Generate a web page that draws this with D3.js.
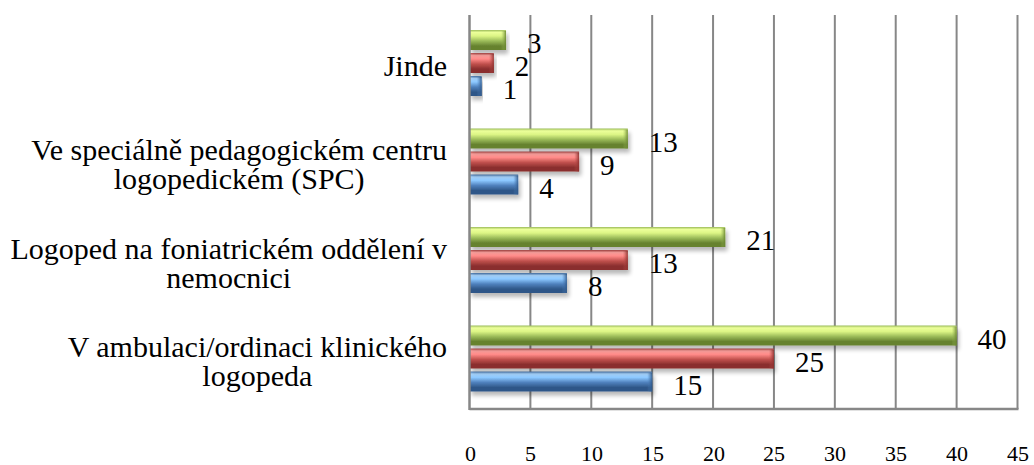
<!DOCTYPE html>
<html>
<head>
<meta charset="utf-8">
<script src="https://cdn.jsdelivr.net/npm/d3@7"></script>
<style>
  @font-face { font-family: "ChartSerif"; src: local("Liberation Serif"), local("LiberationSerif"), local("LiberationSerif-Regular"); }
  .tick-label { font-family: "ChartSerif", "Liberation Serif", serif; }
</style>
</head>
<body style="margin:0;background:#ffffff">
<svg id="fig" width="1034" height="465" style="display:block"></svg>
<script>
// Categories, listed top to bottom as drawn
const categories = [
  "Jinde",
  "Ve speciálně pedagogickém centru logopedickém (SPC)",
  "Logoped na foniatrickém oddělení v nemocnici",
  "V ambulaci/ordinaci klinického logopeda"
];
// Category labels broken into lines
const categoryLines = [
  ["Jinde"],
  ["Ve speciálně pedagogickém centru", "logopedickém (SPC)"],
  ["Logoped na foniatrickém oddělení v", "nemocnici"],
  ["V ambulaci/ordinaci klinického", "logopeda"]
];
// Series values, one per category (same order as categories)
const seriesNames = ["Řada 1", "Řada 2", "Řada 3"];
const series1 = [1, 4, 8, 15];
const series2 = [2, 9, 13, 25];
const series3 = [3, 13, 21, 40];
const xTicks = [0, 5, 10, 15, 20, 25, 30, 35, 40, 45];

const seriesColors = {
  "Řada 1": { light: "#8cc8ff", base: "#4f81bd", dark: "#2f5788", top: "#a9d6ff" },
  "Řada 2": { light: "#ff8a88", base: "#c0504d", dark: "#8a2f2d", top: "#ffa3a0" },
  "Řada 3": { light: "#dcf585", base: "#9bbb59", dark: "#66822f", top: "#ecff9a" }
};

const series = [
  { name: seriesNames[0], values: series1 },
  { name: seriesNames[1], values: series2 },
  { name: seriesNames[2], values: series3 }
];

const rows = [];
series.forEach(s => s.values.forEach((v, i) => rows.push({ series: s.name, category: categories[i], value: v })));

const svg = d3.select("#fig");
const plot = { left: 469.5, right: 1017.5, top: 15, bottom: 409 };

const x = d3.scaleLinear().domain([0, 45]).range([plot.left, plot.right]);
const y = d3.scaleBand().domain(categories).range([plot.top, plot.bottom]);
// Within a category: series 3 on top, series 1 at the bottom
const yInner = d3.scaleBand()
  .domain([seriesNames[2], seriesNames[1], seriesNames[0]])
  .range([15, 81])
  .paddingInner(3 / 23);

// Gradients and shadow
const defs = svg.append("defs");
seriesNames.forEach((n, k) => {
  const c = seriesColors[n];
  const g = defs.append("linearGradient").attr("id", "grad" + k)
    .attr("x1", 0).attr("y1", 0).attr("x2", 0).attr("y2", 1);
  [[0, c.base], [0.12, c.top], [0.3, c.light], [0.55, c.base], [0.8, c.dark], [1, c.dark]]
    .forEach(([o, col]) => g.append("stop").attr("offset", o).attr("stop-color", col));
  const e = defs.append("linearGradient").attr("id", "end" + k)
    .attr("x1", 0).attr("y1", 0).attr("x2", 1).attr("y2", 0);
  e.append("stop").attr("offset", 0).attr("stop-color", c.base).attr("stop-opacity", 0);
  e.append("stop").attr("offset", 1).attr("stop-color", c.dark).attr("stop-opacity", 0.9);
});
const sh = defs.append("filter").attr("id", "shadow")
  .attr("x", "-5%").attr("y", "-30%").attr("width", "115%").attr("height", "180%");
sh.append("feGaussianBlur").attr("in", "SourceAlpha").attr("stdDeviation", 2);
sh.append("feOffset").attr("dx", 2).attr("dy", 4).attr("result", "off");
sh.append("feComponentTransfer").append("feFuncA").attr("type", "linear").attr("slope", 0.28);
const merge = sh.append("feMerge");
merge.append("feMergeNode");
merge.append("feMergeNode").attr("in", "SourceGraphic");

// Vertical gridlines
const gridColor = "#878787";
svg.append("g").selectAll("line")
  .data(xTicks.filter(t => t > 0))
  .join("line")
  .attr("x1", d => x(d)).attr("x2", d => x(d))
  .attr("y1", plot.top).attr("y2", plot.bottom)
  .attr("stroke", gridColor).attr("stroke-width", 2);

// Bars
const seriesIndex = n => seriesNames.indexOf(n);
const bars = svg.append("g").selectAll("g.bar")
  .data(rows)
  .join("g")
  .attr("class", "bar")
  .attr("filter", "url(#shadow)");

bars.append("rect")
  .attr("x", x(0))
  .attr("y", d => y(d.category) + yInner(d.series))
  .attr("width", d => x(d.value) - x(0))
  .attr("height", yInner.bandwidth())
  .attr("fill", d => "url(#grad" + seriesIndex(d.series) + ")");

// bevelled right end
bars.append("rect")
  .attr("x", d => Math.max(x(0), x(d.value) - 5))
  .attr("y", d => y(d.category) + yInner(d.series) + 1)
  .attr("width", d => Math.min(5, x(d.value) - x(0)))
  .attr("height", yInner.bandwidth() - 1)
  .attr("fill", d => "url(#end" + seriesIndex(d.series) + ")");

// Axis lines (left and bottom)
svg.append("line")
  .attr("x1", plot.left).attr("x2", plot.left)
  .attr("y1", plot.top).attr("y2", plot.bottom + 1)
  .attr("stroke", gridColor).attr("stroke-width", 2.5);
svg.append("line")
  .attr("x1", plot.left).attr("x2", plot.right + 1)
  .attr("y1", plot.bottom).attr("y2", plot.bottom)
  .attr("stroke", gridColor).attr("stroke-width", 2.5);

// Value labels
rows.forEach(d => {
  svg.append("text")
    .attr("x", x(d.value) + 21)
    .attr("y", y(d.category) + yInner(d.series) + yInner.bandwidth() / 2 + 13)
    .style("font-family", "Liberation Serif")
    .style("font-size", "29px")
    .attr("fill", "#000")
    .text(d.value);
});

// X tick labels
const xAxis = d3.axisBottom(x).tickValues(xTicks).tickSize(0).tickPadding(0);
const xg = svg.append("g").attr("transform", "translate(0,461)").call(xAxis);
xg.attr("font-family", null).attr("font-size", null);
xg.select(".domain").remove();
xg.selectAll("text")
  .attr("class", "tick-label")
  .attr("y", 0)
  .attr("dy", 0)
  .attr("font-size", 22)
  .attr("fill", "#000");

// Category labels: block right-aligned to the axis, lines centred within the block
const lineH = 29;
const labelRight = 447;
categories.forEach((c, i) => {
  const lines = categoryLines[i];
  const texts = lines.map((ln, j) => svg.append("text")
    .attr("font-family", "Liberation Serif")
    .attr("font-size", 30)
    .attr("fill", "#000")
    .attr("text-anchor", "middle")
    .attr("y", y(c) + y.bandwidth() / 2 + 12 + (j - (lines.length - 1) / 2) * lineH)
    .text(ln));
  const w = d3.max(texts, t => t.node().getComputedTextLength());
  texts.forEach(t => t.attr("x", labelRight - w / 2));
});
</script>
</body>
</html>
